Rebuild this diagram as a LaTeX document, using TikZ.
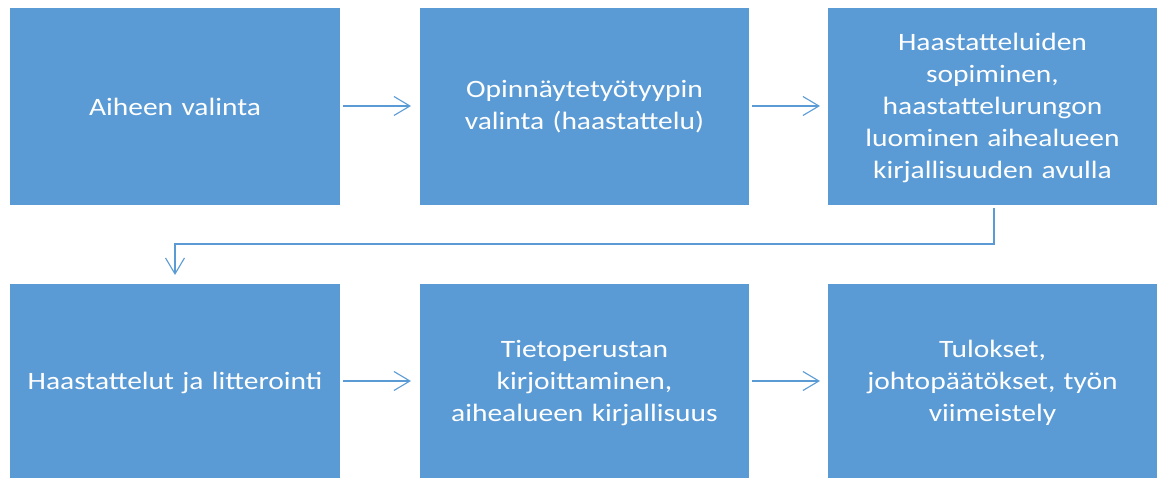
\documentclass[tikz,border=0pt]{standalone}
\usepackage{fontspec}
\setmainfont{Carlito}[FakeStretch=1.18]
\usetikzlibrary{arrows.meta}
\definecolor{boxblue}{HTML}{5B9BD5}
\begin{document}
\begin{tikzpicture}[x=1pt,y=-1pt,
  stepbox/.style={fill=boxblue,draw=none,text=white,align=center,font=\fontsize{25}{31.8}\selectfont,inner sep=0pt,text width=320pt},
  conn/.style={draw=boxblue,line width=1.1pt,-{Straight Barb[length=16pt,width=19pt]}}]
\useasboundingbox (0,0) rectangle (1157,478);
\fill[white] (0,0) rectangle (1157,478);
\path[fill=boxblue] (10,8) rectangle (340,205);
\node[stepbox] (b1) at (175,107) {Aiheen valinta};
\path[fill=boxblue] (420,8) rectangle (749,205);
\node[stepbox] (b2) at (584.5,107) {Opinnäytetyötyypin\\valinta (haastattelu)};
\path[fill=boxblue] (828,8) rectangle (1157,205);
\node[stepbox] (b3) at (992.5,108) {Haastatteluiden\\sopiminen,\\haastattelurungon\\luominen aihealueen\\kirjallisuuden avulla};
\path[fill=boxblue] (10,284) rectangle (340,478);
\node[stepbox] (b4) at (175,383) {Haastattelut ja litterointi};
\path[fill=boxblue] (420,284) rectangle (749,478);
\node[stepbox] (b5) at (584.5,383) {Tietoperustan\\kirjoittaminen,\\aihealueen kirjallisuus};
\path[fill=boxblue] (828,284) rectangle (1157,478);
\node[stepbox] (b6) at (992.5,383) {Tulokset,\\johtopäätökset, työn\\viimeistely};
\coordinate (a1s) at (343,106); \coordinate (a1e) at (411,106);
\coordinate (a2s) at (752,106); \coordinate (a2e) at (820,106);
\coordinate (a4s) at (343,381); \coordinate (a4e) at (411,381);
\coordinate (a5s) at (752,381); \coordinate (a5e) at (820,381);
\coordinate (c1) at (994,208); \coordinate (c2) at (994,244);
\coordinate (c3) at (175,244); \coordinate (c4) at (175,275);
\draw[conn] (a1s) -- (a1e);
\draw[conn] (a2s) -- (a2e);
\draw[conn] (a4s) -- (a4e);
\draw[conn] (a5s) -- (a5e);
\draw[conn] (c1) -- (c2) -- (c3) -- (c4);
\end{tikzpicture}
\end{document}
